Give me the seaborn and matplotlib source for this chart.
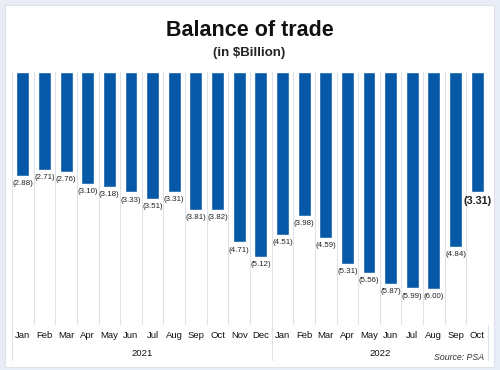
import matplotlib
matplotlib.use("Agg")
import matplotlib.pyplot as plt
import matplotlib.patches as mpatches
import matplotlib.transforms as mtransforms
from matplotlib import font_manager
import seaborn as sns
import pandas as pd

# data (deficit, $ billion)
months = ["Jan", "Feb", "Mar", "Apr", "May", "Jun", "Jul", "Aug", "Sep", "Oct", "Nov", "Dec",
          "Jan", "Feb", "Mar", "Apr", "May", "Jun", "Jul", "Aug", "Sep", "Oct"]
years = ["2021"] * 12 + ["2022"] * 10
deficit = [2.88, 2.71, 2.76, 3.10, 3.18, 3.33, 3.51, 3.31, 3.81, 3.82, 4.71, 5.12,
           4.51, 3.98, 4.59, 5.31, 5.56, 5.87, 5.99, 6.00, 4.84, 3.31]

sns.set_theme(style="white")
names = {f.name for f in font_manager.fontManager.ttflist}
fam = "Liberation Sans Narrow" if "Liberation Sans Narrow" in names else "Liberation Sans"
plt.rcParams['font.family'] = [fam, 'DejaVu Sans']

df = pd.DataFrame({
    "period": [f"{m} {y}" for m, y in zip(months, years)],
    "value": [-v for v in deficit],
})

W, H = 500, 370
fig = plt.figure(figsize=(5, 3.7), dpi=100)
fig.patch.set_facecolor("#e8ecf5")
fig.patches.append(mpatches.Rectangle((5 / W, 1 - 367 / H), 489 / W, 362 / H,
                                      transform=fig.transFigure, facecolor="white",
                                      edgecolor="#dde2ec", linewidth=0.8, zorder=-10))

ax = fig.add_axes([12 / W, 1 - 325 / H, 476 / W, (325 - 72) / H])
ax.set_facecolor("none")
bar_color = "#0759a7"
sns.barplot(data=df, x="period", y="value", color=bar_color, width=0.6,
            saturation=1, ax=ax, zorder=3)

n = len(months)
ax.set_xlim(-0.5, n - 0.5)
ax.set_ylim(-7.0, 0)
for s in ax.spines.values():
    s.set_visible(False)
ax.set_yticks([])
ax.set_xlabel("")
ax.set_ylabel("")
ax.set_xticks([])

# column separators
for i in range(n + 1):
    ax.axvline(i - 0.5, color="#dfe2e7", lw=0.8, zorder=1)

# longer separators for year groups
trans = mtransforms.blended_transform_factory(ax.transData, ax.transAxes)
for xb in [-0.5, 11.5, n - 0.5]:
    ax.plot([xb, xb], [0, -35 / 253], transform=trans, color="#dfe2e7",
            lw=0.8, clip_on=False, zorder=1)

# value labels
for i, v in enumerate(deficit):
    last = i == n - 1
    ax.text(i, -v - 0.12, f"({v:.2f})", ha="center", va="top",
            fontsize=7.8 if last else 5.7, fontweight="bold" if last else "normal",
            color="#222222")

# month and year labels
for i, m in enumerate(months):
    ax.text(i, -10 / 253, m, transform=trans, ha="center", va="center",
            fontsize=6.8, color="#111111")
ax.text(5.5, -28 / 253, "2021", transform=trans, ha="center", va="center",
        fontsize=6.8, color="#111111")
ax.text(16.5, -28 / 253, "2022", transform=trans, ha="center", va="center",
        fontsize=6.8, color="#111111")

fig.text(250 / W, 1 - 30 / H, "Balance of trade", ha="center", va="center",
         fontsize=15.5, fontweight="bold", color="#111111")
fig.text(249 / W, 1 - 53 / H, "(in $Billion)", ha="center", va="center",
         fontsize=9.5, fontweight="bold", color="#222222")
fig.text(484 / W, 1 - 357 / H, "Source: PSA", ha="right", va="center",
         fontsize=6.3, style="italic", color="#333333")

fig.savefig("out.png", dpi=100, facecolor=fig.get_facecolor())
